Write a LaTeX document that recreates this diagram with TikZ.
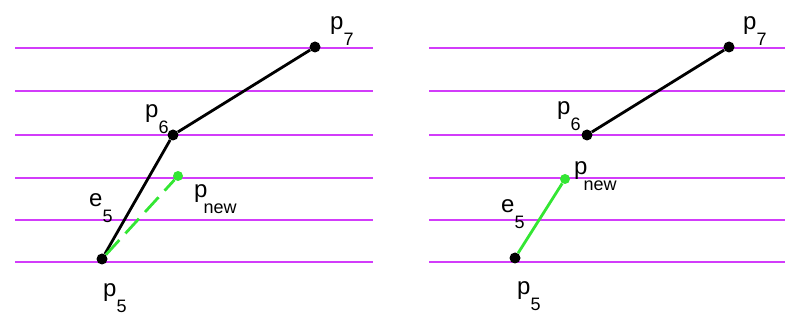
\documentclass[tikz,border=0pt]{standalone}
\usepackage{fontspec}
\setmainfont{Liberation Sans}
\usetikzlibrary{positioning}
\definecolor{scanline}{RGB}{210,60,250}
\definecolor{newgreen}{RGB}{51,230,51}
\newcommand{\ptlabel}[3][0pt]{#2\hspace{#1}\raisebox{-16pt}{\fontsize{18}{18}\selectfont #3}}

\begin{document}
\begin{tikzpicture}[x=1pt,y=-1pt,
  scan/.style={scanline,line width=1.5pt},
  vertex/.style={circle,fill=black,inner sep=0pt,minimum size=11pt},
  newvertex/.style={circle,fill=newgreen,inner sep=0pt,minimum size=10pt},
  edge/.style={line width=2.8pt},
  newedge/.style={newgreen,line width=2.8pt},
  lbl/.style={inner sep=0pt,anchor=north west,font=\fontsize{24}{24}\selectfont}]
\useasboundingbox (0,0) rectangle (785,323);
% scan lines
\foreach \y in {48,91,135,178,220,262} {
  \draw[scan] (15,\y) -- (373,\y);
  \draw[scan] (429,\y) -- (785,\y);
}
% left: before the update
\node[vertex] (p5) at (102,259) {};
\node[vertex] (p6) at (173,135) {};
\node[vertex] (p7) at (315,47) {};
\node[newvertex] (pnew) at (178,176) {};
\draw[edge] (p5) -- (p6) -- (p7);
\draw[newedge,dash pattern=on 20pt off 9pt] (p5) -- (pnew);
\node[lbl] (p7lbl) at (330,16) {\ptlabel{p}{7}};
\node[lbl] (p6lbl) at (145,104) {\ptlabel{p}{6}};
\node[lbl] (e5lbl) at (89,193) {\ptlabel{e}{5}};
\node[lbl] (pnewlbl) at (194,184) {\ptlabel[-4pt]{p}{new}};
\node[lbl] (p5lbl) at (103,283) {\ptlabel{p}{5}};
% right: after the update
\node[vertex] (q5) at (515,258) {};
\node[vertex] (q6) at (587,135) {};
\node[vertex] (q7) at (729,47) {};
\node[newvertex] (qnew) at (565,179) {};
\draw[edge] (q6) -- (q7);
\draw[newedge] (q5) -- (qnew);
\node[lbl] (q7lbl) at (743,16) {\ptlabel{p}{7}};
\node[lbl] (q6lbl) at (557,101) {\ptlabel{p}{6}};
\node[lbl] (e5rlbl) at (501,199) {\ptlabel{e}{5}};
\node[lbl] (qnewlbl) at (574,161) {\ptlabel[-4pt]{p}{new}};
\node[lbl] (q5lbl) at (517,281) {\ptlabel{p}{5}};
\end{tikzpicture}
\end{document}
